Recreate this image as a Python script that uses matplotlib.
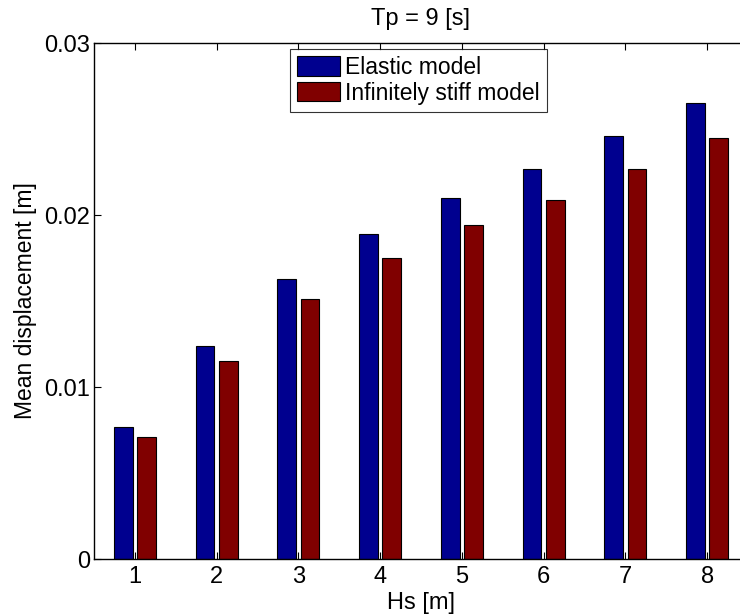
import matplotlib
matplotlib.use("Agg")
import matplotlib.pyplot as plt
import numpy as np

plt.rcParams['font.family'] = ['Liberation Sans', 'DejaVu Sans']

# Significant wave height classes and mean displacements
hs = [1, 2, 3, 4, 5, 6, 7, 8]
elastic = [0.0077, 0.0124, 0.0163, 0.0189, 0.0210, 0.0227, 0.0246, 0.0265]
stiff = [0.0071, 0.0115, 0.0151, 0.0175, 0.0194, 0.0209, 0.0227, 0.0245]
series_labels = ['Elastic model', 'Infinitely stiff model']
y_ticks = [0, 0.01, 0.02, 0.03]
y_tick_labels = ['0', '0.01', '0.02', '0.03']

W, H = 740, 616
fig = plt.figure(figsize=(W / 100, H / 100), dpi=100)
ax_left, ax_right = 94, 748
ax_top, ax_bottom = 43, 559
ax = fig.add_axes([ax_left / W, (H - ax_bottom) / H,
                   (ax_right - ax_left) / W, (ax_bottom - ax_top) / H])

x = np.array(hs, dtype=float)
bw = 0.229
off = 0.143
ax.bar(x - off, elastic, width=bw, color='#00008f', edgecolor='black',
       linewidth=0.8, label=series_labels[0])
ax.bar(x + off, stiff, width=bw, color='#800000', edgecolor='black',
       linewidth=0.8, label=series_labels[1])

ax.set_xlim(0.5, 8.5)
ax.set_ylim(0, 0.03)
ax.set_xticks(hs)
ax.set_xticklabels([str(h) for h in hs])
ax.set_yticks(y_ticks)
ax.set_yticklabels(y_tick_labels)
ax.tick_params(direction='in', length=5, width=0.8, labelsize=17,
               top=True, right=True)
ax.tick_params(axis='x', pad=5)
ax.tick_params(axis='y', pad=3)
for s in ax.spines.values():
    s.set_linewidth(1.0)

ax.set_title('Tp = 9 [s]', fontsize=17, pad=13)
ax.set_xlabel('Hs [m]', fontsize=17, labelpad=3)
ax.set_ylabel('Mean displacement [m]', fontsize=16.5, labelpad=5)

leg = ax.legend(loc='upper left', bbox_to_anchor=(290 / W, 1 - 49 / H),
                bbox_transform=fig.transFigure,
                fontsize=16.5, frameon=True, fancybox=False, edgecolor='black',
                borderpad=0.3, labelspacing=0.12, handlelength=1.9,
                handleheight=0.92, handletextpad=0.22, borderaxespad=0)
leg.get_frame().set_linewidth(0.8)

fig.savefig('out.png', dpi=100)
